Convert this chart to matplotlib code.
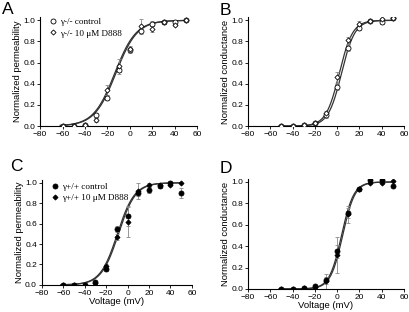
import matplotlib
matplotlib.use('Agg')
import matplotlib.pyplot as plt
import numpy as np

plt.rcParams['font.family'] = ['Liberation Sans', 'DejaVu Sans']

# voltages (mV)
v_a = [-60, -50, -40, -30, -20, -10, 0, 10, 20, 30, 40, 50]
v_b = [-50, -40, -30, -20, -10, 0, 10, 20, 30, 40, 50]

# A: gamma-/- permeability
a_ctrl = [0.0, 0.0, 0.01, 0.10, 0.27, 0.53, 0.72, 0.90, 0.97, 0.98, 0.98, 1.0]
a_ctrl_err = [0.0, 0.0, 0.01, 0.02, 0.02, 0.04, 0.03, 0.03, 0.02, 0.01, 0.01, 0.0]
a_drug = [0.0, 0.0, 0.01, 0.06, 0.34, 0.57, 0.73, 0.95, 0.92, 0.98, 0.96, 1.0]
a_drug_err = [0.0, 0.0, 0.01, 0.02, 0.05, 0.06, 0.03, 0.06, 0.03, 0.01, 0.01, 0.0]

# B: gamma-/- conductance
b_ctrl = [0.0, 0.0, 0.01, 0.03, 0.10, 0.37, 0.74, 0.93, 0.99, 0.98, 1.02]
b_ctrl_err = [0.0, 0.0, 0.0, 0.01, 0.02, 0.03, 0.03, 0.02, 0.01, 0.01, 0.01]
b_drug = [0.0, 0.0, 0.01, 0.03, 0.12, 0.46, 0.81, 0.97, 0.99, 1.01, 1.02]
b_drug_err = [0.0, 0.0, 0.0, 0.01, 0.02, 0.05, 0.03, 0.02, 0.01, 0.01, 0.01]

# C: gamma+/+ permeability
c_ctrl = [0.0, 0.0, 0.0, 0.03, 0.16, 0.55, 0.67, 0.90, 0.93, 0.97, 1.0, 0.90]
c_ctrl_err = [0.0, 0.0, 0.0, 0.01, 0.02, 0.03, 0.09, 0.03, 0.03, 0.02, 0.02, 0.05]
c_drug = [0.0, 0.0, 0.0, 0.02, 0.18, 0.47, 0.62, 0.92, 0.98, 0.98, 0.98, 1.0]
c_drug_err = [0.0, 0.0, 0.0, 0.01, 0.02, 0.03, 0.15, 0.08, 0.02, 0.01, 0.01, 0.0]

# D: gamma+/+ conductance
d_ctrl = [0.0, 0.0, 0.01, 0.03, 0.08, 0.35, 0.71, 0.93, 1.02, 1.02, 0.96]
d_ctrl_err = [0.0, 0.0, 0.0, 0.01, 0.03, 0.06, 0.05, 0.01, 0.01, 0.01, 0.01]
d_drug = [0.0, 0.0, 0.01, 0.02, 0.07, 0.32, 0.70, 0.93, 0.99, 0.99, 1.01]
d_drug_err = [0.0, 0.0, 0.0, 0.01, 0.07, 0.17, 0.08, 0.01, 0.01, 0.01, 0.01]

# Boltzmann fit parameters (V1/2, slope)
fit_a = [(-12.5, 9.5), (-13.5, 9.5)]
fit_b = [(4.0, 6.0), (2.0, 6.0)]
fit_c = [(-8.5, 8.0), (-9.5, 8.0)]
fit_d = [(5.0, 5.5), (4.0, 5.5)]


def boltz(v, vh, k):
    return 1.0 / (1.0 + np.exp(-(v - vh) / k))


def panel(rect, letter, letter_xy, v, ctrl, ctrl_err, drug, drug_err, fits,
          ylabel, filled, legend=None, leg_anchor=None, xlabel=False):
    ax = fig.add_axes(rect)
    vv = np.linspace(min(v) - 2, 50, 300)
    for vh, k in fits:
        ax.plot(vv, boltz(vv, vh, k), color='#333333', lw=0.9, zorder=1)
    fc = 'black' if filled else 'white'
    ax.errorbar(v, ctrl, yerr=ctrl_err, fmt='none', ecolor='#888888',
                elinewidth=0.6, capsize=1.5, capthick=0.6, zorder=2)
    ax.errorbar(v, drug, yerr=drug_err, fmt='none', ecolor='#888888',
                elinewidth=0.6, capsize=1.5, capthick=0.6, zorder=2)
    l1 = ax.plot(v, ctrl, 'o', ms=3.6, mfc=fc, mec='black', mew=0.6,
                 zorder=3)[0]
    l2 = ax.plot(v, drug, 'D', ms=2.6, mfc=fc, mec='black', mew=0.6,
                 zorder=3)[0]
    ax.set_xlim(-80, 60)
    ax.set_ylim(0, 1.03)
    ax.set_xticks(np.arange(-80, 61, 20))
    ax.set_yticks(np.arange(0, 1.01, 0.2))
    ax.set_yticklabels([f'{t:.1f}' for t in np.arange(0, 1.01, 0.2)])
    ax.tick_params(labelsize=6, length=2, width=0.6, pad=1.5)
    for s in ['top', 'right']:
        ax.spines[s].set_visible(False)
    for s in ['left', 'bottom']:
        ax.spines[s].set_linewidth(0.8)
    ax.set_ylabel(ylabel, fontsize=6.8, labelpad=1)
    if xlabel:
        ax.set_xlabel('Voltage (mV)', fontsize=6.8, labelpad=0)
    if legend:
        ax.legend([l1, l2], legend, loc='upper left', frameon=False,
                  prop={'family': 'Liberation Serif', 'size': 6.6},
                  handletextpad=0.3, borderaxespad=0.0, labelspacing=0.35,
                  handlelength=1.0, bbox_to_anchor=leg_anchor)
    fig.text(letter_xy[0], letter_xy[1], letter, fontsize=12.5,
             va='baseline', ha='left')
    return ax


fig = plt.figure(figsize=(4.1, 3.12), dpi=100)

panel([0.098, 0.596, 0.383, 0.349], 'A', (0.005, 0.955), v_a, a_ctrl,
      a_ctrl_err, a_drug, a_drug_err, fit_a, 'Normalized permeability', False,
      legend=['γ-/- control', 'γ-/- 10 μM D888'], leg_anchor=(0.03, 1.03))
panel([0.605, 0.596, 0.380, 0.349], 'B', (0.535, 0.952), v_b, b_ctrl,
      b_ctrl_err, b_drug, b_drug_err, fit_b, 'Normalized conductance', False)
panel([0.102, 0.087, 0.366, 0.337], 'C', (0.025, 0.452), v_a, c_ctrl,
      c_ctrl_err, c_drug, c_drug_err, fit_c, 'Normalized permeability', True,
      legend=['γ+/+ control', 'γ+/+ 10 μM D888'], leg_anchor=(0.033, 1.01),
      xlabel=True)
panel([0.605, 0.074, 0.380, 0.353], 'D', (0.535, 0.446), v_b, d_ctrl,
      d_ctrl_err, d_drug, d_drug_err, fit_d, 'Normalized conductance', True,
      xlabel=True)

fig.savefig('out.png', dpi=100)
